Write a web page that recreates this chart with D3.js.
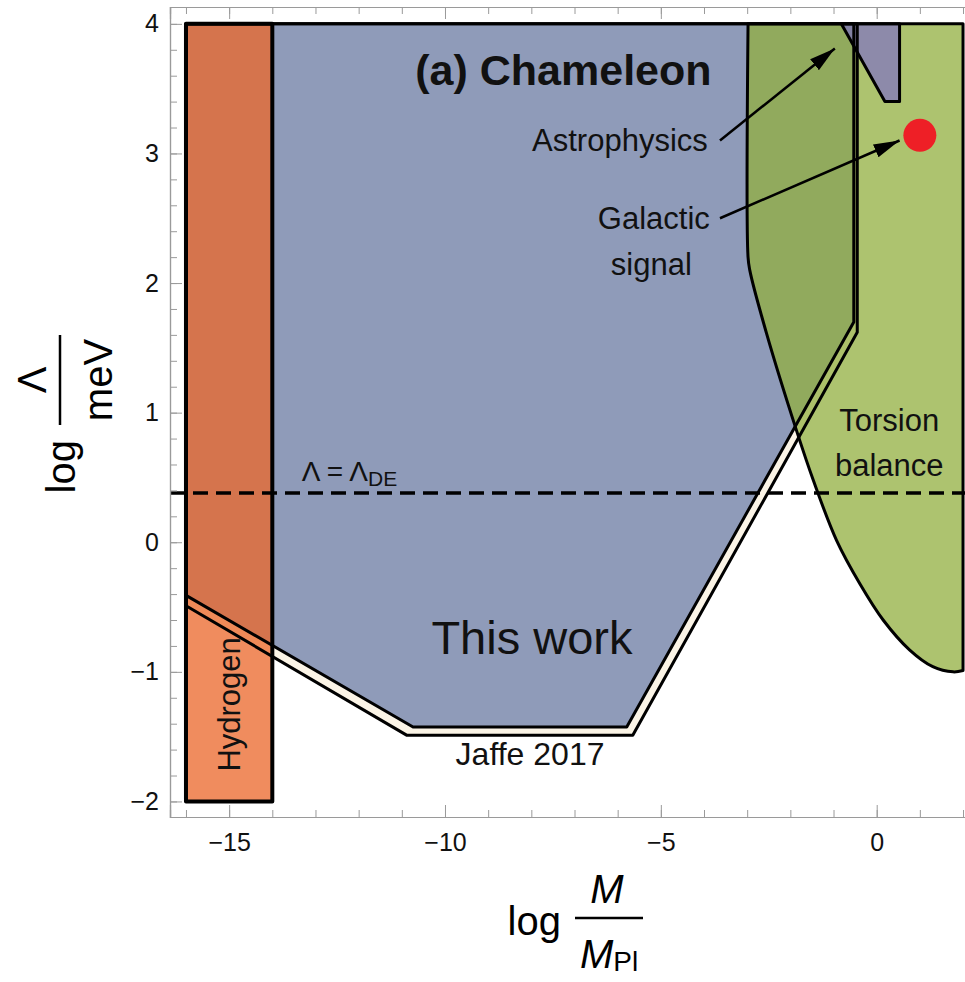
<!DOCTYPE html>
<html>
<head>
<meta charset="utf-8">
<script src="https://cdn.jsdelivr.net/npm/d3@7"></script>
<style>
  html, body { margin: 0; padding: 0; background: #fff; }
  svg { display: block; font-family: "Liberation Sans", Arial, sans-serif; }
</style>
</head>
<body>
<script>
"use strict";

// tick values
var xMajorTicks = [-15, -10, -5, 0];
var yMajorTicks = [-2, -1, 0, 1, 2, 3, 4];

// Hydrogen excluded band
var hydrogenX = [-16, -14];
var hydrogenY = [-2, 4];

// "This work" excluded region (boundary vertices)
var thisWorkX = [-16, -16, -10.74, -5.79, -0.53, -0.53];
var thisWorkY = [4, -0.41, -1.425, -1.425, 1.70, 4];

// Jaffe 2017 excluded region
var jaffeX = [-16, -16, -10.88, -5.65, -0.45, -0.45];
var jaffeY = [4, -0.49, -1.49, -1.49, 1.62, 4];

// Torsion balance excluded region (curved boundary, then closes at top right)
var torsionX = [-2.98, -2.98, -2.94, -2.55, -1.86, -1.47, -0.93, -0.39, 0.15, 0.76, 1.30, 1.77, 2.0];
var torsionY = [4, 2.2, 2.1, 1.61, 0.865, 0.48, 0.015, -0.32, -0.60, -0.83, -0.96, -1.0, -0.99];

// Astrophysics excluded region
var astroX = [-0.82, 0.53, 0.53, 0.19];
var astroY = [4, 4, 3.4, 3.4];

// Galactic signal point
var signalX = [1.0];
var signalY = [3.14];

// dark energy scale
var lambdaDE = 0.38;

// annotation arrows (start -> tip)
var arrowFromX = [-3.63, -3.63];
var arrowFromY = [3.10, 2.50];
var arrowToX = [-0.97, 0.53];
var arrowToY = [3.81, 3.10];

(function () {
  var width = 965, height = 982;
  var margin = {left: 170, top: 7};

  var x = d3.scaleLinear().domain([-16.37, 2.37]).range([margin.left, 979]);
  var y = d3.scaleLinear().domain([-2.12, 4.13]).range([817, margin.top]);

  var svg = d3.select("body").append("svg")
    .attr("width", width)
    .attr("height", height);

  var defs = svg.append("defs");
  defs.append("clipPath").attr("id", "plotClip")
    .append("rect")
    .attr("x", x.range()[0]).attr("y", y.range()[1])
    .attr("width", x.range()[1] - x.range()[0])
    .attr("height", y.range()[0] - y.range()[1]);

  defs.append("marker")
    .attr("id", "arrowHead")
    .attr("markerUnits", "userSpaceOnUse")
    .attr("markerWidth", 28).attr("markerHeight", 16)
    .attr("refX", 26).attr("refY", 8)
    .attr("orient", "auto")
    .append("path")
    .attr("d", "M0,1 L26,8 L0,15 Z")
    .attr("fill", "#000");

  function pts(xs, ys) {
    return xs.map(function (v, i) { return [x(v), y(ys[i])]; });
  }
  var lin = d3.line();
  var smooth = d3.line().curve(d3.curveCatmullRom.alpha(0.5));

  var torsionPath = smooth(pts(torsionX, torsionY)) +
    "L" + x(torsionX[torsionX.length - 1]) + "," + y(torsionY[0]) + "Z";

  var shapes = [
    {d: lin(pts(jaffeX, jaffeY)) + "Z", fill: "#fbf4e6", op: 1, sw: 3},
    {d: lin(pts(thisWorkX, thisWorkY)) + "Z", fill: "#8f9bb9", op: 1, sw: 3},
    {d: torsionPath, fill: "rgb(146,175,63)", op: 0.75, sw: 3},
    {d: lin(pts(astroX, astroY)) + "Z", fill: "rgb(121,104,206)", op: 0.62, sw: 3},
    {d: lin(pts([hydrogenX[0], hydrogenX[1], hydrogenX[1], hydrogenX[0]],
                [hydrogenY[0], hydrogenY[0], hydrogenY[1], hydrogenY[1]])) + "Z",
     fill: "rgb(235,104,43)", op: 0.76, sw: 4}
  ];

  var plot = svg.append("g").attr("clip-path", "url(#plotClip)");

  plot.append("g").selectAll("path.fill")
    .data(shapes).enter().append("path")
    .attr("class", "fill")
    .attr("d", function (d) { return d.d; })
    .attr("fill", function (d) { return d.fill; })
    .attr("fill-opacity", function (d) { return d.op; })
    .attr("stroke", "none");

  plot.append("g").selectAll("path.edge")
    .data(shapes).enter().append("path")
    .attr("class", "edge")
    .attr("d", function (d) { return d.d; })
    .attr("fill", "none")
    .attr("stroke", "#000")
    .attr("stroke-width", function (d) { return d.sw; })
    .attr("stroke-linejoin", "round");

  // dark energy line
  plot.append("line")
    .attr("x1", x.range()[0]).attr("x2", x.range()[1])
    .attr("y1", y(lambdaDE)).attr("y2", y(lambdaDE))
    .attr("stroke", "#000")
    .attr("stroke-width", 3.5)
    .attr("stroke-dasharray", "15,8");

  // galactic signal
  plot.selectAll("circle.signal")
    .data(signalX).enter().append("circle")
    .attr("class", "signal")
    .attr("cx", function (d) { return x(d); })
    .attr("cy", function (d, i) { return y(signalY[i]); })
    .attr("r", 16.5)
    .attr("fill", "#ee1f26");

  // arrows
  plot.selectAll("line.arrow")
    .data(arrowFromX).enter().append("line")
    .attr("class", "arrow")
    .attr("x1", function (d) { return x(d); })
    .attr("y1", function (d, i) { return y(arrowFromY[i]); })
    .attr("x2", function (d, i) { return x(arrowToX[i]); })
    .attr("y2", function (d, i) { return y(arrowToY[i]); })
    .attr("stroke", "#000")
    .attr("stroke-width", 2.5)
    .attr("marker-end", "url(#arrowHead)");

  // frame and ticks
  var axisColor = "#9a9a9a";
  function styleAxis(g) {
    g.selectAll("path.domain").attr("stroke", axisColor);
    g.selectAll(".tick line").attr("stroke", axisColor);
    g.selectAll(".tick text").attr("fill", "#111").style("font-size", "25px")
      .style("font-family", "'Liberation Sans', Arial, sans-serif");
  }
  var xMinor = d3.range(-16, 3, 1);
  var yMinor = d3.range(-2, 4.01, 0.2);
  var intFmt = d3.format("d");

  svg.append("g")
    .attr("transform", "translate(0," + y.range()[0] + ")")
    .call(d3.axisBottom(x).tickValues(xMinor).tickSize(-7).tickFormat(""))
    .call(styleAxis);
  svg.append("g")
    .attr("transform", "translate(0," + y.range()[0] + ")")
    .call(d3.axisBottom(x).tickValues(xMajorTicks).tickSize(-12).tickPadding(16).tickFormat(intFmt))
    .call(styleAxis);
  svg.append("g")
    .attr("transform", "translate(0," + y.range()[1] + ")")
    .call(d3.axisTop(x).tickValues(xMinor).tickSize(-7).tickFormat(""))
    .call(styleAxis);
  svg.append("g")
    .attr("transform", "translate(0," + y.range()[1] + ")")
    .call(d3.axisTop(x).tickValues(xMajorTicks).tickSize(-12).tickFormat(""))
    .call(styleAxis);
  svg.append("g")
    .attr("transform", "translate(" + x.range()[0] + ",0)")
    .call(d3.axisLeft(y).tickValues(yMinor).tickSize(-7).tickFormat(""))
    .call(styleAxis);
  svg.append("g")
    .attr("transform", "translate(" + x.range()[0] + ",0)")
    .call(d3.axisLeft(y).tickValues(yMajorTicks).tickSize(-12).tickPadding(11).tickFormat(intFmt))
    .call(styleAxis);
  svg.selectAll(".domain").attr("stroke-width", 1.2);

  // in-plot labels (positions in data units)
  var labels = [
    {t: "(a) Chameleon", x: -7.257, y: 3.529, size: 43, weight: "bold", anchor: "middle"},
    {t: "Astrophysics", x: -3.912, y: 3.019, size: 31, anchor: "end"},
    {t: "Galactic", x: -3.866, y: 2.417, size: 31, anchor: "end"},
    {t: "signal", x: -5.22, y: 2.06, size: 31, anchor: "middle"},
    {t: "Torsion", x: 0.29, y: 0.857, size: 31, anchor: "middle"},
    {t: "balance", x: 0.29, y: 0.51, size: 31, anchor: "middle"},
    {t: "This work", x: -7.986, y: -0.859, size: 47, anchor: "middle"},
    {t: "Jaffe 2017", x: -8.03, y: -1.722, size: 32, anchor: "middle"}
  ];
  svg.append("g").selectAll("text")
    .data(labels).enter().append("text")
    .attr("x", function (d) { return x(d.x); })
    .attr("y", function (d) { return y(d.y); })
    .attr("text-anchor", function (d) { return d.anchor; })
    .attr("font-weight", function (d) { return d.weight || "normal"; })
    .style("font-size", function (d) { return d.size + "px"; })
    .attr("fill", "#111")
    .text(function (d) { return d.t; });

  // Hydrogen (rotated)
  svg.append("text")
    .attr("transform", "translate(" + x(-14.745) + "," + y(-1.251) + ") rotate(-90)")
    .attr("text-anchor", "middle")
    .style("font-size", "31px")
    .attr("fill", "#111")
    .text("Hydrogen");

  // Lambda = Lambda_DE
  var de = svg.append("text")
    .attr("x", x(-13.317))
    .attr("y", y(0.471))
    .style("font-size", "28px")
    .attr("fill", "#111");
  de.append("tspan").text("\u039B = \u039B");
  de.append("tspan").attr("dy", 5).style("font-size", "21px").text("DE");

  // x axis title: log M / M_Pl
  var xt = svg.append("g").attr("transform", "translate(609,918)");
  xt.append("text").attr("x", -48).attr("y", 17).attr("text-anchor", "end")
    .style("font-size", "40px").text("log");
  xt.append("line").attr("x1", -34).attr("x2", 34).attr("y1", 0).attr("y2", 0)
    .attr("stroke", "#000").attr("stroke-width", 2.5);
  xt.append("text").attr("x", -2).attr("y", -15).attr("text-anchor", "middle")
    .style("font-size", "40px").style("font-style", "italic").text("M");
  var den = xt.append("text").attr("x", 0).attr("y", 50).attr("text-anchor", "middle")
    .style("font-size", "40px");
  den.append("tspan").style("font-style", "italic").text("M");
  den.append("tspan").attr("dy", 3).style("font-size", "28px").text("Pl");

  // y axis title: log Lambda / meV
  var yt = svg.append("g").attr("transform", "translate(60,380) rotate(-90)");
  yt.append("text").attr("x", -60).attr("y", 15).attr("text-anchor", "end")
    .style("font-size", "40px").text("log");
  yt.append("line").attr("x1", -45).attr("x2", 45).attr("y1", 0).attr("y2", 0)
    .attr("stroke", "#000").attr("stroke-width", 2.5);
  yt.append("text").attr("x", 0).attr("y", -14).attr("text-anchor", "middle")
    .style("font-size", "40px").text("\u039B");
  yt.append("text").attr("x", 0).attr("y", 52).attr("text-anchor", "middle")
    .style("font-size", "40px").text("meV");
})();
</script>
</body>
</html>
